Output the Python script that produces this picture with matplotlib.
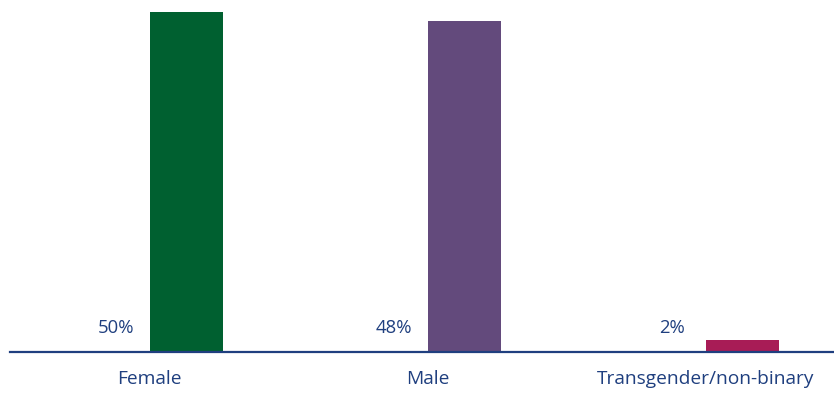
import matplotlib.pyplot as plt

categories = ['Female', 'Male', 'Transgender/non-binary']
values = [50, 48.7, 1.8]
value_labels = ['50%', '48%', '2%']
colors = ['#006030', '#634a7c', '#a81c56']

navy = '#1f3f7f'

fig = plt.figure(figsize=(8.34, 3.94), dpi=100)
ax = fig.add_axes([10 / 834, 42 / 394, 824 / 834, 340 / 394])

x = list(range(len(categories)))
bar_w = 0.263
ax.bar(x, values, width=bar_w, align='edge', color=colors)

for i, lab in enumerate(value_labels):
    ax.text(i - bar_w / 2 + 0.008, 2.8, lab, ha='center', va='baseline',
            color=navy, fontsize=13.3, family='Open Sans')

ax.set_xlim(-0.503, 2.461)
ax.set_ylim(0, 50)
ax.set_xticks(x)
ax.set_xticklabels(categories, color=navy, fontsize=13.8, family='Open Sans')
ax.tick_params(axis='x', length=0, pad=13)
ax.set_yticks([])
for s in ['top', 'right', 'left']:
    ax.spines[s].set_visible(False)
ax.spines['bottom'].set_color(navy)
ax.spines['bottom'].set_linewidth(1.6)

plt.savefig('out.png', dpi=100)
plt.close()
